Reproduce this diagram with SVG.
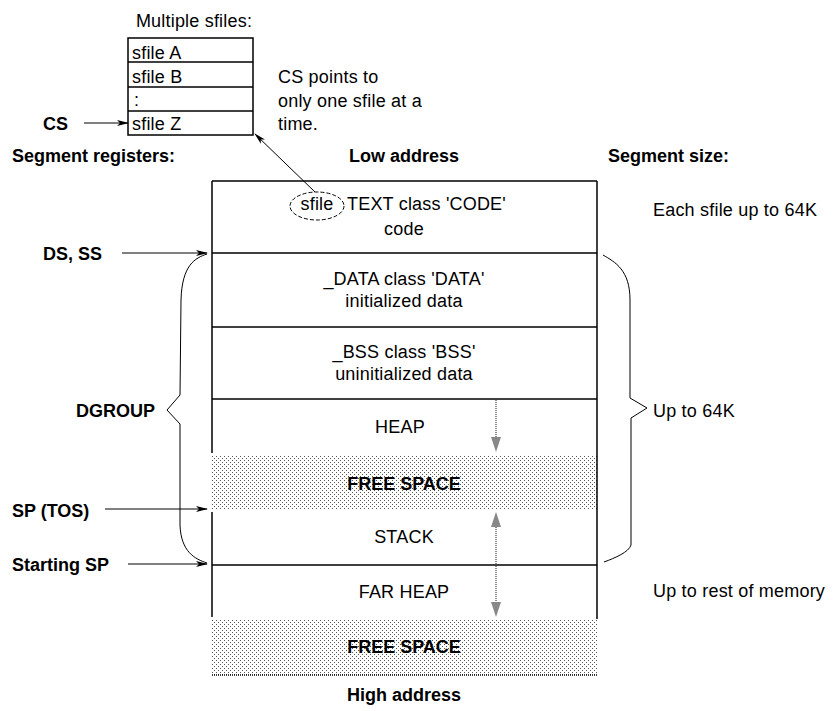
<svg xmlns="http://www.w3.org/2000/svg" width="833" height="711" viewBox="0 0 833 711">
<defs>
<style>
.t{font-family:"Liberation Sans",Arial,sans-serif;font-size:18px;letter-spacing:0.2px;fill:#000}
.b{font-family:"Liberation Sans",Arial,sans-serif;font-size:18px;font-weight:bold;fill:#000}
.m{text-anchor:middle}
.ln{stroke:#000;stroke-width:1.5;fill:none}
.thin{stroke:#000;stroke-width:1;fill:none}
.wav{stroke:#888;stroke-width:2;stroke-dasharray:1 1;fill:none}
</style>
<pattern id="dots" width="4" height="4" patternUnits="userSpaceOnUse">
<rect width="4" height="4" fill="#fff"/>
<rect x="0" y="0" width="1" height="1" fill="#555"/>
<rect x="2" y="2" width="1" height="1" fill="#555"/>
</pattern>
<marker id="ah" markerWidth="12" markerHeight="8" refX="11" refY="4" orient="auto" markerUnits="userSpaceOnUse">
<path d="M0,1 L12,4 L0,7 L3,4 Z" fill="#000"/>
</marker>
</defs>

<g id="sfiles">
<text class="t m" x="194" y="27">Multiple sfiles:</text>
<rect x="128" y="38" width="125" height="97" class="ln"/>
<line x1="128" y1="62" x2="253" y2="62" class="ln"/>
<line x1="128" y1="87" x2="253" y2="87" class="ln"/>
<line x1="128" y1="111" x2="253" y2="111" class="ln"/>
<text class="t" x="132" y="59">sfile A</text>
<text class="t" x="132" y="83">sfile B</text>
<text class="t" x="134" y="106">:</text>
<text class="t" x="132" y="130">sfile Z</text>
</g>

<g id="cs-note">
<text class="t" x="278" y="83">CS points to</text>
<text class="t" x="278" y="107">only one sfile at a</text>
<text class="t" x="278" y="130">time.</text>
</g>

<g id="headers">
<text class="b" x="12" y="162">Segment registers:</text>
<text class="b m" x="404" y="162">Low address</text>
<text class="b" x="608" y="162">Segment size:</text>
<text class="b m" x="404" y="701">High address</text>
</g>

<g id="memory">
<rect x="212" y="456" width="385" height="54" fill="url(#dots)"/>
<rect x="212" y="619" width="385" height="56" fill="url(#dots)"/>
<line x1="212" y1="181" x2="597" y2="181" class="ln"/>
<line x1="212" y1="253" x2="597" y2="253" class="ln"/>
<line x1="212" y1="327" x2="597" y2="327" class="ln"/>
<line x1="212" y1="399" x2="597" y2="399" class="ln"/>
<line x1="212" y1="565" x2="597" y2="565" class="ln"/>
<line x1="212" y1="675" x2="597" y2="675" stroke="#000" stroke-width="1.5" stroke-dasharray="1 1"/>
<line x1="212" y1="181" x2="212" y2="453" class="ln"/>
<line x1="212" y1="512" x2="212" y2="617" class="ln"/>
<line x1="597" y1="181" x2="597" y2="619" class="ln"/>
</g>

<g id="seg-text">
<ellipse cx="317" cy="206" rx="27" ry="14" fill="none" stroke="#000" stroke-width="1" stroke-dasharray="4 2"/>
<text class="t m" x="317" y="210">sfile</text>
<text class="t" x="347" y="210">TEXT class 'CODE'</text>
<text class="t m" x="404" y="235">code</text>
</g>
<g id="seg-data">
<text class="t m" x="404" y="285">_DATA class 'DATA'</text>
<text class="t m" x="404" y="307">initialized data</text>
</g>
<g id="seg-bss">
<text class="t m" x="404" y="358">_BSS class 'BSS'</text>
<text class="t m" x="404" y="380">uninitialized data</text>
</g>
<g id="seg-heap">
<text class="t m" x="400" y="433">HEAP</text>
</g>
<g id="seg-free1">
<text class="b m" x="404" y="490">FREE SPACE</text>
</g>
<g id="seg-stack">
<text class="t m" x="404" y="543">STACK</text>
</g>
<g id="seg-farheap">
<text class="t m" x="404" y="598">FAR HEAP</text>
</g>
<g id="seg-free2">
<text class="b m" x="404" y="653">FREE SPACE</text>
</g>

<g id="registers">
<text class="b" x="43" y="130">CS</text>
<text class="b" x="43" y="260">DS, SS</text>
<text class="b" x="76" y="417">DGROUP</text>
<text class="b" x="12" y="517">SP (TOS)</text>
<text class="b" x="12" y="571">Starting SP</text>
</g>

<g id="sizes">
<text class="t" x="653" y="216">Each sfile up to 64K</text>
<text class="t" x="653" y="417">Up to 64K</text>
<text class="t" x="653" y="597">Up to rest of memory</text>
</g>

<g id="connectors">
<line x1="84" y1="123" x2="128" y2="123" class="thin" marker-end="url(#ah)"/>
<line x1="315" y1="192" x2="255" y2="134" class="thin" marker-end="url(#ah)"/>
<line x1="122" y1="253" x2="207" y2="253" class="thin" marker-end="url(#ah)"/>
<line x1="105" y1="509" x2="207" y2="509" class="thin" marker-end="url(#ah)"/>
<line x1="128" y1="564" x2="207" y2="564" class="thin" marker-end="url(#ah)"/>
<path d="M207,254 C195,258 182,265 181,300 L180,395 L167,410 L180,424 L180,525 C181,552 195,559 207,563" class="thin"/>
<path d="M603,255 C615,262 630,270 630,300 L630,398 L647,408 L631,418 L631,545 C629,552 615,558 604,562" class="thin"/>
<line x1="496" y1="400" x2="496" y2="440" class="wav"/>
<path d="M491,437 L501,437 L496,452 Z" fill="#888"/>
<line x1="496" y1="525" x2="496" y2="565" class="wav"/>
<path d="M491,527 L501,527 L496,512 Z" fill="#888"/>
<line x1="496" y1="566" x2="496" y2="605" class="wav"/>
<path d="M491,602 L501,602 L496,617 Z" fill="#888"/>
</g>
</svg>
